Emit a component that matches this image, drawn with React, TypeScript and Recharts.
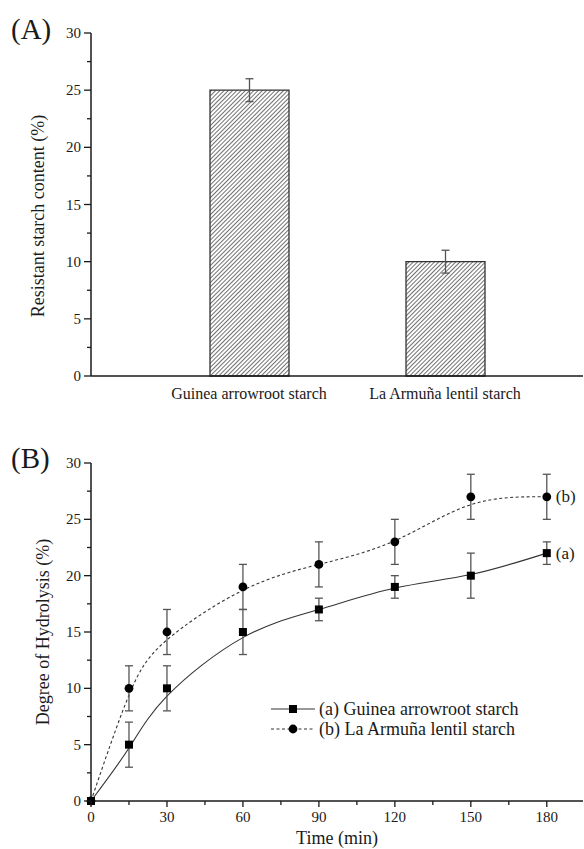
import React from 'react';
import {
  BarChart,
  Bar,
  ComposedChart,
  Line,
  XAxis,
  YAxis,
  ErrorBar,
  Legend,
} from 'recharts';

const FONT = '"Liberation Serif", "Times New Roman", serif';
const INK = '#1a1a1a';
const ERR = '#555555';

// (A) resistant starch content
const STARCHES = ['Guinea arrowroot starch', 'La Armuña lentil starch'];
const RESISTANT_STARCH = [25, 10];
const RESISTANT_STARCH_SD = [1, 1];

// (B) hydrolysis time course
const TIMES = [0, 15, 30, 60, 90, 120, 150, 180];
const GUINEA_DH = [0, 5, 10, 15, 17, 19, 20, 22];
const GUINEA_SD = [0, 2, 2, 2, 1, 1, 2, 1];
const LENTIL_DH = [0, 10, 15, 19, 21, 23, 27, 27];
const LENTIL_SD = [0, 2, 2, 2, 2, 2, 2, 2];
// fitted curves
const GUINEA_FIT = [0, 4.7, 9.3, 14.5, 17, 18.9, 20.1, 22];
const LENTIL_FIT = [0, 9.4, 14.3, 18.7, 21, 23.1, 26.3, 27];

const PERCENT_TICKS = [0, 2.5, 5, 7.5, 10, 12.5, 15, 17.5, 20, 22.5, 25, 27.5, 30];
const TIME_TICKS = [0, 15, 30, 45, 60, 75, 90, 105, 120, 135, 150, 165, 180];

const barRows = STARCHES.map((name, i) => ({
  name,
  rs: RESISTANT_STARCH[i],
  sd: RESISTANT_STARCH_SD[i],
}));

const hydrolysisRows = TIMES.map((t, i) => ({
  t,
  a: GUINEA_DH[i],
  aErr: GUINEA_SD[i],
  b: LENTIL_DH[i],
  bErr: LENTIL_SD[i],
  fitA: GUINEA_FIT[i],
  fitB: LENTIL_FIT[i],
}));

const frame = { stroke: INK, strokeWidth: 1.5 };

function PercentTick(props: any) {
  const { x, y, payload } = props;
  const v = payload.value as number;
  const major = v % 5 === 0;
  return (
    <g>
      <line x1={x} x2={x - (major ? 7 : 4)} y1={y} y2={y} stroke={INK} strokeWidth={1.3} />
      {major && (
        <text x={x - 10} y={y} textAnchor="end" dominantBaseline="central" fontFamily={FONT} fontSize={15} fill={INK}>
          {v}
        </text>
      )}
    </g>
  );
}

function TimeTick(props: any) {
  const { x, y, payload } = props;
  const v = payload.value as number;
  const major = v % 30 === 0;
  return (
    <g>
      <line x1={x} x2={x} y1={y} y2={y + (major ? 6 : 4)} stroke={INK} strokeWidth={1.3} />
      {major && (
        <text x={x} y={y + 16} textAnchor="middle" dominantBaseline="central" fontFamily={FONT} fontSize={15} fill={INK}>
          {v}
        </text>
      )}
    </g>
  );
}

function StarchTick(props: any) {
  const { x, y, payload } = props;
  return (
    <text x={x} y={y + 17} textAnchor="middle" dominantBaseline="central" fontFamily={FONT} fontSize={16} fill={INK}>
      {payload.value}
    </text>
  );
}

function rotatedLabel(text: string, cx: number, cy: number, size: number) {
  return () => (
    <text
      x={cx}
      y={cy}
      transform={`rotate(-90, ${cx}, ${cy})`}
      textAnchor="middle"
      dominantBaseline="central"
      fontFamily={FONT}
      fontSize={size}
      fill={INK}
    >
      {text}
    </text>
  );
}

const squareDot = (p: any) => (
  <rect key={`sq-${p.index}`} x={p.cx - 4} y={p.cy - 4} width={8} height={8} fill="#000" />
);
const circleDot = (p: any) => <circle key={`ci-${p.index}`} cx={p.cx} cy={p.cy} r={4.4} fill="#000" />;

const endTag = (tag: string) => (p: any) =>
  p.index === TIMES.length - 1 ? (
    <text key={`tag-${tag}`} x={p.x + 9} y={p.y} dominantBaseline="central" fontFamily={FONT} fontSize={17} fill={INK}>
      {tag}
    </text>
  ) : null;

function HydrolysisLegend() {
  const row = (dashed: boolean, marker: 'square' | 'circle', text: string) => (
    <div style={{ display: 'flex', alignItems: 'center', height: 20 }}>
      <svg width={44} height={20}>
        <line x1={0} x2={44} y1={10} y2={10} stroke="#333" strokeWidth={1} strokeDasharray={dashed ? '3 2.5' : undefined} />
        {marker === 'square' ? (
          <rect x={18} y={6} width={8} height={8} fill="#000" />
        ) : (
          <circle cx={22} cy={10} r={4.4} fill="#000" />
        )}
      </svg>
      <span style={{ marginLeft: 4, whiteSpace: 'nowrap' }}>{text}</span>
    </div>
  );
  return (
    <div style={{ fontFamily: FONT, fontSize: 18, color: INK, lineHeight: '20px' }}>
      {row(false, 'square', '(a) Guinea arrowroot starch')}
      {row(true, 'circle', '(b) La Armuña lentil starch')}
    </div>
  );
}

const panelTag: React.CSSProperties = {
  position: 'absolute',
  left: 11,
  fontFamily: FONT,
  fontSize: 29,
  lineHeight: '29px',
  color: INK,
};

export default function App() {
  return (
    <div style={{ position: 'absolute', left: 0, top: 0, width: 584, height: 849, background: '#fff', overflow: 'hidden' }}>
      <div style={{ ...panelTag, top: 15 }}>(A)</div>
      <div style={{ position: 'absolute', left: 0, top: 0 }}>
        <BarChart width={584} height={420} data={barRows} margin={{ top: 33, right: 1, bottom: 14, left: 0 }}>
          <defs>
            <pattern id="hatch" patternUnits="userSpaceOnUse" width={3} height={3} patternTransform="rotate(45)">
              <rect width={3} height={3} fill="#fff" />
              <line x1={0} y1={0} x2={0} y2={3} stroke="#333" strokeWidth={1.4} />
            </pattern>
          </defs>
          <XAxis
            dataKey="name"
            height={30}
            padding={{ left: 60, right: 40 }}
            tick={<StarchTick />}
            tickLine={false}
            tickSize={0}
            tickMargin={0}
            axisLine={frame}
          />
          <XAxis xAxisId="top" dataKey="name" orientation="top" height={0} tick={false} tickLine={false} axisLine={frame} />
          <YAxis
            width={91}
            domain={[0, 30]}
            ticks={PERCENT_TICKS}
            interval={0}
            tick={<PercentTick />}
            tickLine={false}
            tickSize={0}
            tickMargin={0}
            axisLine={frame}
            label={rotatedLabel('Resistant starch content (%)', 38, 216, 18)}
          />
          <YAxis yAxisId="right" orientation="right" width={0} domain={[0, 30]} tick={false} tickLine={false} axisLine={frame} />
          <Bar dataKey="rs" barSize={79} fill="url(#hatch)" stroke="#333" strokeWidth={1.3} isAnimationActive={false}>
            <ErrorBar dataKey="sd" width={4} stroke={ERR} strokeWidth={1.3} />
          </Bar>
        </BarChart>
      </div>

      <div style={{ ...panelTag, top: 444 }}>(B)</div>
      <div style={{ position: 'absolute', left: 0, top: 420 }}>
        <ComposedChart width={584} height={429} data={hydrolysisRows} margin={{ top: 43, right: 1, bottom: 0, left: 0 }}>
          <XAxis
            dataKey="t"
            type="number"
            domain={[0, 194.3]}
            ticks={TIME_TICKS}
            interval={0}
            height={48}
            tick={<TimeTick />}
            tickLine={false}
            tickSize={0}
            tickMargin={0}
            axisLine={frame}
            label={() => (
              <text x={337} y={418} textAnchor="middle" dominantBaseline="central" fontFamily={FONT} fontSize={18} fill={INK}>
                Time (min)
              </text>
            )}
          />
          <XAxis xAxisId="top" dataKey="t" type="number" domain={[0, 194.3]} orientation="top" height={0} tick={false} tickLine={false} axisLine={frame} />
          <YAxis
            width={91}
            domain={[0, 30]}
            ticks={PERCENT_TICKS}
            interval={0}
            tick={<PercentTick />}
            tickLine={false}
            tickSize={0}
            tickMargin={0}
            axisLine={frame}
            label={rotatedLabel('Degree of Hydrolysis (%)', 43, 212, 18)}
          />
          <YAxis yAxisId="right" orientation="right" width={0} domain={[0, 30]} tick={false} tickLine={false} axisLine={frame} />

          <Line dataKey="fitA" type="natural" stroke="#333" strokeWidth={1.1} dot={false} isAnimationActive={false} />
          <Line dataKey="fitB" type="natural" stroke="#333" strokeWidth={1.1} strokeDasharray="3 2.5" dot={false} isAnimationActive={false} />

          <Line dataKey="a" stroke="none" dot={squareDot} label={endTag('(a)')} isAnimationActive={false}>
            <ErrorBar dataKey="aErr" width={4} stroke={ERR} strokeWidth={1.3} />
          </Line>
          <Line dataKey="b" stroke="none" dot={circleDot} label={endTag('(b)')} isAnimationActive={false}>
            <ErrorBar dataKey="bErr" width={4} stroke={ERR} strokeWidth={1.3} />
          </Line>

          <Legend
            layout="horizontal"
            verticalAlign="middle"
            align="center"
            content={<HydrolysisLegend />}
            wrapperStyle={{ left: 271, top: 279, width: 312, height: 40, margin: 0 }}
          />
        </ComposedChart>
      </div>
    </div>
  );
}
